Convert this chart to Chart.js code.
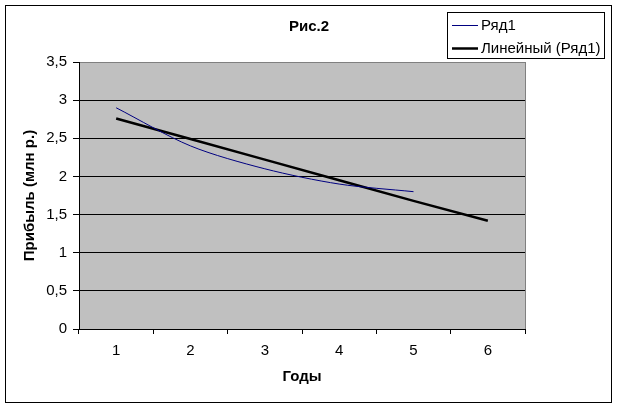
<!DOCTYPE html>
<html>
<head>
<meta charset="utf-8">
<style>
  html, body { margin: 0; padding: 0; background: #fff; }
  #wrap { width: 618px; height: 410px; position: relative; }
</style>
<script src="https://cdn.jsdelivr.net/npm/chart.js@4/dist/chart.umd.min.js"></script>
</head>
<body>
<div id="wrap"><canvas id="chart" width="618" height="410"></canvas></div>
<script>
// данные графика
const chartTitle = "Рис.2";
const years = ["1", "2", "3", "4", "5", "6"];
const profit = [2.9, 2.4, 2.1, 1.9, 1.8, null];
const trend = [2.76, 2.49, 2.22, 1.95, 1.68, 1.42];
const yTicks = [0, 0.5, 1, 1.5, 2, 2.5, 3, 3.5];

const FONT = "'Liberation Sans', Arial, sans-serif";

// фон области построения, рамки, заголовок и легенда в стиле Excel
const excelFrame = {
  id: "excelFrame",
  beforeDraw(chart) {
    const { ctx, chartArea: a } = chart;
    ctx.save();
    ctx.fillStyle = "#fff";
    ctx.fillRect(0, 0, chart.width, chart.height);
    ctx.fillStyle = "#c0c0c0";
    ctx.fillRect(a.left, a.top, a.right - a.left, a.bottom - a.top);
    ctx.restore();
  },
  beforeDatasetsDraw(chart) {
    const { ctx, chartArea: a } = chart;
    ctx.save();
    ctx.strokeStyle = "#808080";
    ctx.lineWidth = 1;
    ctx.beginPath();
    ctx.moveTo(Math.round(a.right) + 0.5, Math.round(a.top));
    ctx.lineTo(Math.round(a.right) + 0.5, Math.round(a.bottom));
    ctx.stroke();
    ctx.restore();
  },
  afterDraw(chart) {
    const ctx = chart.ctx;
    ctx.save();
    // внешняя рамка
    ctx.strokeStyle = "#000";
    ctx.lineWidth = 1;
    ctx.strokeRect(5.5, 5.5, 606, 397);
    // заголовок
    ctx.fillStyle = "#000";
    ctx.font = "bold 15px " + FONT;
    ctx.textAlign = "center";
    ctx.textBaseline = "middle";
    ctx.fillText(chartTitle, 309, 27);
    // легенда
    ctx.fillStyle = "#fff";
    ctx.fillRect(447.5, 12.5, 157, 46);
    ctx.strokeRect(447.5, 12.5, 157, 46);
    ctx.font = "15px " + FONT;
    ctx.textAlign = "left";
    chart.data.datasets.forEach((ds, i) => {
      const y = 25 + i * 23;
      ctx.strokeStyle = ds.borderColor;
      ctx.lineWidth = ds.borderWidth;
      ctx.beginPath();
      ctx.moveTo(452, y + 0.5);
      ctx.lineTo(478, y + 0.5);
      ctx.stroke();
      ctx.fillStyle = "#000";
      ctx.fillText(ds.label, 481, y + 1);
    });
    ctx.restore();
  }
};

new Chart(document.getElementById("chart"), {
  type: "line",
  data: {
    labels: years,
    datasets: [
      {
        label: "Ряд1",
        data: profit,
        borderColor: "#000080",
        borderWidth: 1,
        pointRadius: 0,
        tension: 0.3,
        spanGaps: false
      },
      {
        label: "Линейный (Ряд1)",
        data: trend,
        borderColor: "#000",
        borderWidth: 2.5,
        pointRadius: 0,
        tension: 0
      }
    ]
  },
  options: {
    responsive: false,
    animation: false,
    devicePixelRatio: 1,
    layout: { padding: { top: 62, left: 0, right: 93, bottom: 0 } },
    plugins: {
      legend: { display: false },
      title: { display: false },
      tooltip: { enabled: false }
    },
    scales: {
      x: {
        type: "category",
        offset: true,
        afterFit: (scale) => { scale.height = 81; },
        grid: { offset: true, drawOnChartArea: false, drawTicks: true, tickLength: 5, color: "#000", tickColor: "#000" },
        border: { display: true, color: "#000", width: 1 },
        ticks: { color: "#000", padding: 8, font: { family: FONT, size: 15 }, maxRotation: 0 },
        title: { display: true, text: "Годы", color: "#000", font: { family: FONT, size: 15, weight: "bold" }, padding: { top: 0, bottom: 24 } }
      },
      y: {
        min: 0,
        max: 3.5,
        afterFit: (scale) => { scale.width = 79; },
        afterBuildTicks: (scale) => { scale.ticks = yTicks.map(v => ({ value: v })); },
        grid: {
          color: (c) => (c.tick && c.tick.value === 3.5 ? "#808080" : "#000"),
          tickColor: "#000",
          tickLength: 6,
          lineWidth: 1
        },
        border: { display: true, color: "#000", width: 1 },
        ticks: {
          color: "#000",
          padding: 6,
          font: { family: FONT, size: 15 },
          callback: (v) => String(v).replace(".", ",")
        },
        title: { display: true, text: "Прибыль (млн р.)", color: "#000", font: { family: FONT, size: 15, weight: "bold" }, padding: { top: 21, bottom: 0 } }
      }
    }
  },
  plugins: [excelFrame]
});
</script>
</body>
</html>
